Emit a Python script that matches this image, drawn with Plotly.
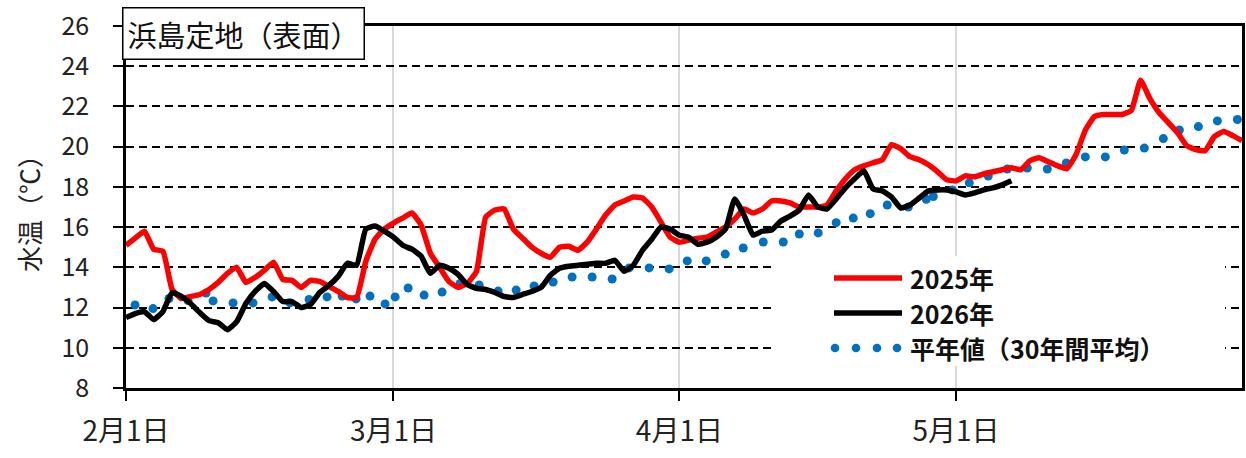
import plotly.graph_objects as go

# ---- data (day index: 0 = 2月1日, Feb has 29 days on this axis) ----
tick_days = [0, 29, 60, 90]
tick_labels = ["2月1日", "3月1日", "4月1日", "5月1日"]

temp_2025 = [15.1, 15.45, 15.8, 14.9, 14.8, 12.9, 12.45, 12.55, 12.65, 12.9,
             13.25, 13.7, 14.0, 13.25, 13.5, 13.85, 14.25, 13.4, 13.35, 13.0,
             13.35, 13.3, 13.05, 12.8, 12.5, 12.5, 14.3, 15.4, 15.9, 16.2,
             16.45, 16.7, 16.1, 14.7, 14.0, 13.3, 13.0, 13.2, 13.8, 16.5,
             16.85, 16.9, 15.9, 15.45, 15.0, 14.7, 14.5, 15.0, 15.05, 14.85,
             15.25, 15.9, 16.6, 17.1, 17.3, 17.5, 17.45, 17.0, 16.25, 15.5,
             15.25, 15.35, 15.45, 15.5, 15.75, 16.0, 16.4, 16.9, 16.7, 16.9,
             17.3, 17.3, 17.2, 17.0, 17.0, 17.0, 17.1, 17.8, 18.4, 18.85,
             19.05, 19.2, 19.35, 20.1, 19.9, 19.5, 19.35, 19.1, 18.75, 18.35,
             18.3, 18.55, 18.5, 18.65, 18.75, 18.85, 18.95, 18.85, 19.3, 19.45,
             19.25, 19.05, 18.9, 19.6, 20.8, 21.5, 21.6, 21.6, 21.6, 21.8,
             23.3, 22.4, 21.7, 21.2, 20.7, 20.05, 19.85, 19.8, 20.5, 20.75,
             20.55, 20.3]

temp_2026 = [11.5, 11.7, 11.8, 11.4, 11.8, 12.75, 12.55, 12.2, 11.75, 11.35,
             11.25, 10.9, 11.3, 12.2, 12.8, 13.2, 12.8, 12.3, 12.3, 12.0,
             12.15, 12.75, 13.1, 13.55, 14.2, 14.1, 15.9, 16.05, 15.8, 15.5,
             15.1, 14.9, 14.55, 13.7, 14.1, 13.95, 13.65, 13.15, 12.95, 12.9,
             12.75, 12.55, 12.5, 12.65, 12.8, 13.0, 13.6, 13.95, 14.05, 14.1,
             14.15, 14.2, 14.2, 14.35, 13.8, 14.1, 14.85, 15.4, 16.0, 15.9,
             15.6, 15.5, 15.15, 15.25, 15.5, 15.9, 17.4, 16.6, 15.6, 15.8,
             15.85, 16.3, 16.55, 16.85, 17.6, 17.0, 16.9, 17.4, 17.95, 18.4,
             18.8, 17.9, 17.8, 17.5, 16.95, 17.1, 17.45, 17.8, 17.85, 17.85,
             17.75, 17.6, 17.7, 17.85, 17.95, 18.1, 18.3]

normal_day = [0.98, 2.93, 4.66, 6.72, 8.68, 9.44, 11.61, 13.77, 15.84, 17.79,
              19.85, 21.8, 23.43, 24.95, 26.46, 28.09, 29.18, 30.59, 32.32, 34.27,
              36.23, 38.29, 40.35, 42.3, 44.25, 46.31, 48.37, 50.54, 52.71, 54.56,
              56.72, 58.89, 60.85, 62.91, 64.97, 66.92, 69.09, 71.26, 73.0, 75.05,
              77.0, 78.85, 80.69, 82.54, 84.82, 86.77, 87.53, 89.59, 91.43, 93.49,
              95.55, 97.72, 99.89, 101.95, 104.01, 106.18, 108.24, 110.41, 112.47, 114.21,
              116.27, 118.33, 120.5]
normal_val = [12.13, 11.95, 12.45, 12.35, 12.72, 12.33, 12.23, 12.23, 12.53, 12.23,
              12.4, 12.53, 12.57, 12.43, 12.57, 12.18, 12.53, 12.97, 12.62, 12.77,
              13.2, 13.12, 12.82, 12.87, 13.07, 13.27, 13.52, 13.52, 13.42, 13.97,
              13.97, 13.92, 14.32, 14.32, 14.66, 14.96, 15.26, 15.26, 15.66, 15.71,
              16.22, 16.45, 16.67, 17.1, 17.0, 17.38, 17.52, 17.85, 18.2, 18.54,
              18.89, 18.94, 18.89, 19.19, 19.49, 19.49, 19.83, 19.93, 20.4, 20.83,
              21.0, 21.28, 21.35]

series_names = ["2025年", "2026年", "平年値（30年間平均）"]
title_text = "浜島定地（表面）"
y_title = "水温（℃）"

RED = "#FF0000"
BLACK = "#000000"
BLUE = "#0070C0"
FONT = "Noto Sans CJK JP"

X_MAX, Y_MIN, Y_MAX = 121, 8, 26

fig = go.Figure()
fig.add_trace(go.Scatter(x=normal_day, y=normal_val, mode="markers",
                         marker=dict(color=BLUE, size=9), showlegend=False,
                         name=series_names[2]))
fig.add_trace(go.Scatter(x=list(range(len(temp_2025))), y=temp_2025, mode="lines",
                         line=dict(color=RED, width=5.5, shape="spline", smoothing=0.4),
                         showlegend=False, name=series_names[0]))
fig.add_trace(go.Scatter(x=list(range(len(temp_2026))), y=temp_2026, mode="lines",
                         line=dict(color=BLACK, width=5.5, shape="spline", smoothing=0.4),
                         showlegend=False, name=series_names[1]))

W, H = 1246, 458
# plot area in page pixels: left 126, right 1242, top 26, bottom 388
L, R, T, B = 126, 1242, 26, 388


def px(x):
    return (x - L) / (R - L)


def py(y):
    return (B - y) / (B - T)


def dx(x):  # page pixel -> data x
    return (x - L) / (R - L) * X_MAX


def dy(y):  # page pixel -> data y
    return Y_MIN + (B - y) / (B - T) * (Y_MAX - Y_MIN)


shapes = []
# white legend background (hides grid, stays under the data)
shapes.append(dict(type="rect", xref="x", yref="y", layer="between",
                   x0=dx(772), x1=dx(1225), y0=dy(366), y1=dy(256),
                   fillcolor="white", line=dict(width=0)))
# legend line samples
for yy, col in [(278, RED), (313, BLACK)]:
    shapes.append(dict(type="line", xref="paper", yref="paper", layer="above",
                       x0=px(834), x1=px(902), y0=py(yy), y1=py(yy),
                       line=dict(color=col, width=5.5)))
rx, ry = 4.3, 4.3
for cx in [835, 856, 877, 897]:
    shapes.append(dict(type="circle", xref="paper", yref="paper", layer="above",
                       x0=px(cx - rx), x1=px(cx + rx), y0=py(348 + ry), y1=py(348 - ry),
                       fillcolor=BLUE, line=dict(width=0)))

annotations = []
for yy, txt in zip([278, 313, 348], series_names):
    annotations.append(dict(xref="paper", yref="paper", x=px(908), y=py(yy),
                            xanchor="left", yanchor="middle", showarrow=False,
                            text="<b>" + txt + "</b>",
                            font=dict(family=FONT, size=25, color="#111")))
annotations.append(dict(xref="paper", yref="paper", x=px(122), y=py(7),
                        xanchor="left", yanchor="top", showarrow=False,
                        text=title_text, bgcolor="white", bordercolor="black",
                        borderwidth=1.5, borderpad=4,
                        font=dict(family=FONT, size=29, color="#111")))
annotations.append(dict(xref="paper", yref="paper", x=px(28), y=0.5,
                        xanchor="center", yanchor="middle", showarrow=False,
                        text=y_title, textangle=-90,
                        font=dict(family=FONT, size=26, color="#222")))

fig.update_layout(
    width=W, height=H,
    margin=dict(l=L, r=W - R, t=T, b=H - B),
    paper_bgcolor="white", plot_bgcolor="white",
    font=dict(family=FONT, size=24, color="#222"),
    shapes=shapes, annotations=annotations,
)
fig.update_xaxes(range=[0, X_MAX], tickvals=tick_days, ticktext=tick_labels,
                 showgrid=True, gridcolor="#D9D9D9", gridwidth=2,
                 showline=True, linecolor="black", linewidth=2.5, mirror=True,
                 ticks="outside", ticklen=10, tickwidth=2, tickcolor="black",
                 ticklabelstandoff=7, zeroline=False, automargin=False,
                 ticklabeloverflow="allow",
                 tickfont=dict(family=FONT, size=28, color="#222"))
fig.update_yaxes(range=[Y_MIN, Y_MAX], dtick=2, tick0=8,
                 showgrid=True, gridcolor="black", gridwidth=2, griddash="8px,5px",
                 showline=True, linecolor="black", linewidth=2.5, mirror=True,
                 ticks="outside", ticklen=10, tickwidth=2, tickcolor="black",
                 ticklabelstandoff=19, zeroline=False, automargin=False,
                 ticklabeloverflow="allow",
                 tickfont=dict(family=FONT, size=25, color="#222"))

# remove the page's default 8px body margin so the figure sits at (0, 0)
fig.write_html("out.html", config={"displayModeBar": False},
               post_script="document.body.style.margin='0';document.body.style.overflow='hidden';")
